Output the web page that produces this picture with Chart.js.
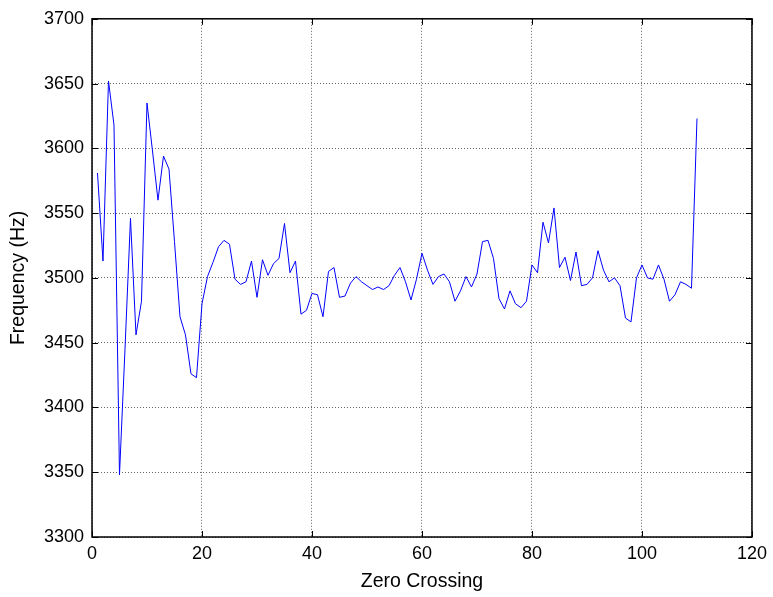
<!DOCTYPE html>
<html>
<head>
<meta charset="utf-8">
<script src="https://cdn.jsdelivr.net/npm/chart.js@4/dist/chart.umd.min.js"></script>
<style>
  html, body { margin: 0; padding: 0; background: #ffffff; }
  #wrap { width: 773px; height: 597px; }
</style>
</head>
<body>
<div id="wrap"><canvas id="c" width="773" height="597"></canvas></div>
<script>
// Zero crossing index (x) and measured frequency in Hz (y)
const crossingIndex = Array.from({length: 110}, (_, i) => i + 1);
const frequencyHz = [
  3581, 3513, 3652, 3618, 3348, 3445, 3546, 3456, 3482, 3635,
  3598, 3560, 3594, 3584, 3528, 3470, 3456, 3426, 3423, 3480,
  3501, 3512, 3524, 3529, 3526, 3499, 3495, 3497, 3513, 3485,
  3514, 3502, 3511, 3515, 3542, 3504, 3513, 3472, 3475, 3488,
  3487, 3470, 3505, 3508, 3485, 3486, 3496, 3501, 3497, 3494,
  3491, 3493, 3491, 3494, 3502, 3508, 3497, 3483, 3499, 3519,
  3506, 3495, 3501, 3503, 3497, 3482, 3490, 3501, 3493, 3503,
  3528, 3529, 3515, 3484, 3476, 3490, 3480, 3477, 3482, 3510,
  3504, 3543, 3527, 3554, 3508, 3516, 3498, 3520, 3494, 3495,
  3500, 3521, 3506, 3497, 3500, 3494, 3469, 3466, 3500, 3510,
  3500, 3499, 3510, 3499, 3482, 3487, 3497, 3495, 3492, 3623
];
const xTicks = [0, 20, 40, 60, 80, 100, 120];
const yTicks = [3300, 3350, 3400, 3450, 3500, 3550, 3600, 3650, 3700];
const xTitle = 'Zero Crossing';
const yTitle = 'Frequency (Hz)';

const points = crossingIndex.map((x, i) => ({x: x, y: frequencyHz[i]}));
const FONT = "'Liberation Sans', Arial, Helvetica, sans-serif";

// Box frame with inward ticks (MATLAB style)
const boxPlugin = {
  id: 'boxPlugin',
  afterDraw(chart) {
    const {ctx, chartArea: a, scales} = chart;
    const xs = scales.x, ys = scales.y;
    const tl = 6;
    ctx.save();
    ctx.strokeStyle = '#000';
    ctx.lineWidth = 1;
    ctx.beginPath();
    xTicks.forEach(v => {
      const px = Math.round(xs.getPixelForValue(v)) + 0.5;
      ctx.moveTo(px, a.bottom); ctx.lineTo(px, a.bottom - tl);
      ctx.moveTo(px, a.top); ctx.lineTo(px, a.top + tl);
    });
    yTicks.forEach(v => {
      const py = Math.round(ys.getPixelForValue(v)) + 0.5;
      ctx.moveTo(a.left, py); ctx.lineTo(a.left + tl, py);
      ctx.moveTo(a.right, py); ctx.lineTo(a.right - tl, py);
    });
    ctx.stroke();
    ctx.lineWidth = 1.5;
    ctx.strokeRect(a.left, a.top, a.right - a.left, a.bottom - a.top);
    ctx.restore();
  }
};

new Chart(document.getElementById('c'), {
  type: 'line',
  data: {
    datasets: [{
      data: points,
      borderColor: '#0000ff',
      borderWidth: 1,
      pointRadius: 0,
      tension: 0,
      fill: false
    }]
  },
  options: {
    responsive: false,
    animation: false,
    events: [],
    layout: { padding: { top: 14, right: 18, left: 0, bottom: 0 } },
    plugins: { legend: { display: false }, tooltip: { enabled: false } },
    scales: {
      x: {
        type: 'linear',
        min: 0, max: 120,
        afterBuildTicks: s => { s.ticks = xTicks.map(v => ({value: v})); },
        afterFit: s => { s.height = 60; },
        border: { display: false, dash: [1, 2] },
        grid: { color: '#666', lineWidth: 1, drawTicks: false },
        ticks: { color: '#000', font: { family: FONT, size: 18 }, padding: 6,
                 maxRotation: 0, autoSkip: false, callback: v => String(v) },
        title: { display: true, text: xTitle, color: '#000',
                 font: { family: FONT, size: 19.5 }, padding: { top: 0, bottom: 4 } }
      },
      y: {
        type: 'linear',
        min: 3300, max: 3700,
        afterBuildTicks: s => { s.ticks = yTicks.map(v => ({value: v})); },
        afterFit: s => { s.width = 92; },
        border: { display: false, dash: [1, 2] },
        grid: { color: '#666', lineWidth: 1, drawTicks: false },
        ticks: { color: '#000', font: { family: FONT, size: 18 }, padding: 8,
                 autoSkip: false, callback: v => String(v) },
        title: { display: true, text: yTitle, color: '#000',
                 font: { family: FONT, size: 19.5 }, padding: { top: 7, bottom: 0 } }
      }
    }
  },
  plugins: [boxPlugin]
});
</script>
</body>
</html>
